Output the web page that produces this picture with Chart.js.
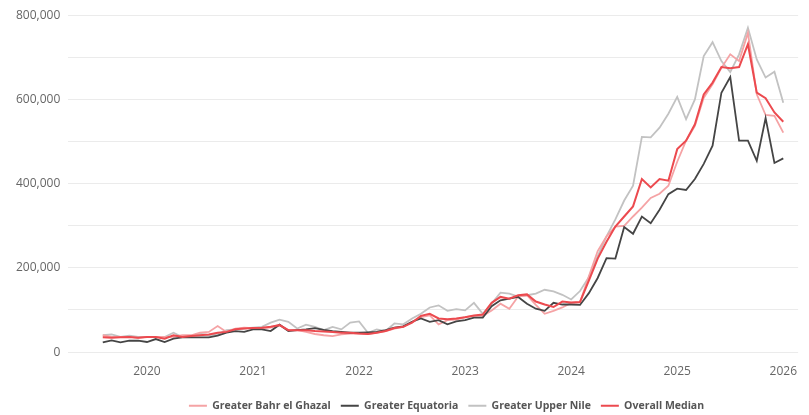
<!DOCTYPE html>
<html>
<head>
<meta charset="utf-8">
<script src="https://cdn.jsdelivr.net/npm/chart.js@4.4.1/dist/chart.umd.min.js"></script>
<style>
  html, body { margin: 0; padding: 0; background: #ffffff; }
  #wrap { width: 809px; height: 415px; position: relative; }
</style>
</head>
<body>
<div id="wrap"><canvas id="c"></canvas></div>
<script>
// Months: Aug 2019 .. Jan 2026
const months = [
  "2019-08","2019-09","2019-10","2019-11","2019-12",
  "2020-01","2020-02","2020-03","2020-04","2020-05","2020-06","2020-07","2020-08","2020-09","2020-10","2020-11","2020-12",
  "2021-01","2021-02","2021-03","2021-04","2021-05","2021-06","2021-07","2021-08","2021-09","2021-10","2021-11","2021-12",
  "2022-01","2022-02","2022-03","2022-04","2022-05","2022-06","2022-07","2022-08","2022-09","2022-10","2022-11","2022-12",
  "2023-01","2023-02","2023-03","2023-04","2023-05","2023-06","2023-07","2023-08","2023-09","2023-10","2023-11","2023-12",
  "2024-01","2024-02","2024-03","2024-04","2024-05","2024-06","2024-07","2024-08","2024-09","2024-10","2024-11","2024-12",
  "2025-01","2025-02","2025-03","2025-04","2025-05","2025-06","2025-07","2025-08","2025-09","2025-10","2025-11","2025-12",
  "2026-01"
];

// Values in thousands
const bahrElGhazal = [
  40,36,36,36,34,36,36,36,36,40,40,46,48,62,48,56,58,57,57,58,65,52,52,48,43,
  40,38,42,44,44,43,46,50,56,60,72,83,87,66,76,77,83,86,86,99,115,103,132,135,112,91,98,106,117,
  118,180,240,275,298,300,322,343,366,376,395,452,502,537,604,636,675,707,691,758,612,563,561,521
];
const equatoria = [
  23,28,23,27,27,24,31,24,32,35,35,35,35,39,46,50,48,54,54,50,65,50,52,54,57,
  53,50,48,46,46,47,48,52,58,61,72,80,72,76,66,73,76,82,82,109,123,127,131,115,103,98,117,113,113,
  112,140,176,223,222,297,281,322,306,338,375,388,385,411,447,490,616,653,502,502,454,556,449,460
];
const upperNile = [
  40,42,36,39,36,36,36,36,46,36,39,44,40,42,52,54,56,58,60,70,77,72,56,65,60,
  52,60,54,70,73,46,54,50,68,66,80,91,106,111,98,102,99,117,91,115,141,139,132,135,139,148,144,136,125,
  145,178,228,275,315,360,395,511,510,533,566,606,553,600,703,736,691,665,707,770,695,652,666,592
];
const overallMedian = [
  35,34,35,36,34,36,36,32,40,36,38,40,42,46,48,54,56,57,58,60,64,52,52,52,50,
  49,48,46,46,44,43,46,50,57,60,70,86,91,80,78,80,83,87,89,117,131,127,135,137,120,113,107,120,118,
  119,170,222,262,298,322,346,411,391,411,407,482,502,541,612,640,677,674,677,731,616,603,569,547
];

const yearTicks = [2020, 2021, 2022, 2023, 2024, 2025, 2026];
const yTicks = [0, 100000, 200000, 300000, 400000, 500000, 600000, 700000, 800000];

function monthToX(m) {
  const [y, mo] = m.split("-").map(Number);
  return y + (mo - 1) / 12;
}
function toPoints(arr) {
  return arr.map((v, i) => ({ x: monthToX(months[i]), y: v * 1000 }));
}

const FONT = "'Open Sans', 'Noto Sans', sans-serif";

const legendTweak = {
  id: 'legendTweak',
  beforeLayout(chart) {
    const lg = chart.legend;
    if (lg && !lg._tweaked) {
      const orig = lg.fit;
      lg.fit = function () { orig.call(this); this.height = Math.max(0, this.height - 6); };
      lg._tweaked = true;
    }
  },
  afterLayout(chart) {
    const lg = chart.legend;
    if (lg) { lg.left += 38; lg.right += 38; }
  }
};

new Chart(document.getElementById('c'), {
  type: 'line',
  data: {
    datasets: [
      { label: 'Greater Bahr el Ghazal', data: toPoints(bahrElGhazal), borderColor: '#f5a3a5', backgroundColor: '#f5a3a5', borderWidth: 1.8, order: 2 },
      { label: 'Greater Equatoria', data: toPoints(equatoria), borderColor: '#454545', backgroundColor: '#454545', borderWidth: 1.8, order: 1 },
      { label: 'Greater Upper Nile', data: toPoints(upperNile), borderColor: '#c2c2c2', backgroundColor: '#c2c2c2', borderWidth: 1.8, order: 3 },
      { label: 'Overall Median', data: toPoints(overallMedian), borderColor: '#ec4a4f', backgroundColor: '#ec4a4f', borderWidth: 2, order: 0 }
    ]
  },
  plugins: [legendTweak],
  options: {
    responsive: true,
    maintainAspectRatio: false,
    animation: false,
    layout: { padding: { left: 8, right: 0, top: 4, bottom: 0 } },
    elements: { point: { radius: 0, hoverRadius: 0 }, line: { tension: 0 } },
    plugins: {
      legend: {
        position: 'bottom',
        labels: {
          usePointStyle: true,
          pointStyle: 'line',
          pointStyleWidth: 18,
          padding: 10,
          color: '#555555',
          font: { family: FONT, size: 10.5, weight: 'bold' },
          sort: (a, b) => a.datasetIndex - b.datasetIndex
        }
      },
      tooltip: { enabled: false }
    },
    scales: {
      x: {
        type: 'linear',
        min: 2019.258,
        max: 2026.14,
        grid: { display: false, drawTicks: false },
        border: { display: false },
        afterBuildTicks: (s) => { s.ticks = yearTicks.map(v => ({ value: v })); },
        ticks: {
          padding: 12,
          color: '#666666',
          font: { family: FONT, size: 12 },
          maxRotation: 0,
          autoSkip: false,
          callback: (v) => String(v)
        }
      },
      y: {
        min: 0,
        max: 800000,
        afterBuildTicks: (s) => { s.ticks = yTicks.map(v => ({ value: v })); },
        grid: { color: '#ebebeb', drawTicks: false, lineWidth: 1 },
        border: { display: false },
        ticks: {
          padding: 8,
          color: '#666666',
          font: { family: FONT, size: 12 },
          callback: (v) => (v % 200000 === 0 ? v.toLocaleString('en-US') : '')
        }
      }
    }
  }
});
</script>
</body>
</html>
